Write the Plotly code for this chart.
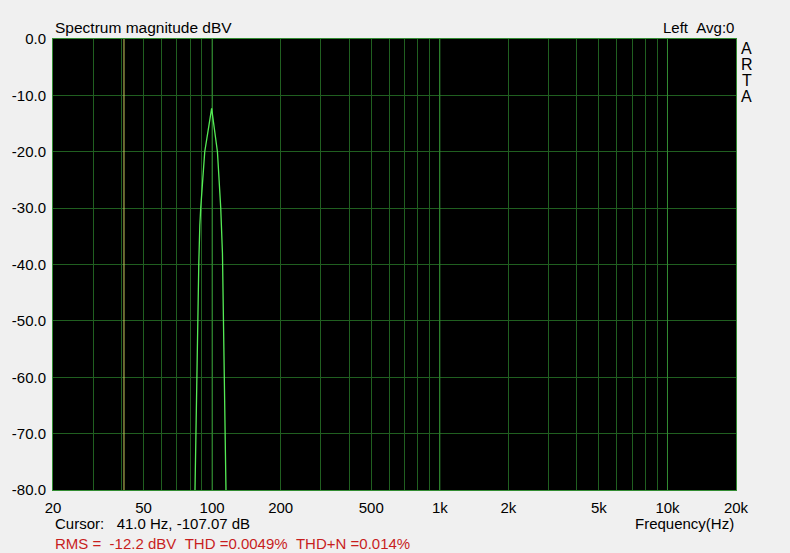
import plotly.graph_objects as go

# ---- data ----
freq_hz = [82.5, 83.9, 84.8, 85.6, 86.5, 87.4, 88.3, 89.1, 92.8, 99.5,
           105.5, 109.1, 111.0, 112.5, 114.0, 115.1, 117.0]
mag_dbv = [-100.0, -80.0, -70.8, -60.5, -49.8, -39.6, -33.0, -30.0, -20.0, -12.3,
           -20.0, -30.0, -38.0, -52.0, -68.0, -80.0, -100.0]

grid_freqs = [20, 30, 40, 50, 60, 70, 80, 90,
              100, 200, 300, 400, 500, 600, 700, 800, 900,
              1000, 2000, 3000, 4000, 5000, 6000, 7000, 8000, 9000,
              10000, 20000]
x_label_map = {20: "20", 50: "50", 100: "100", 200: "200", 500: "500",
               1000: "1k", 2000: "2k", 5000: "5k", 10000: "10k", 20000: "20k"}
decade_freqs = [100, 1000, 10000]
y_ticks = [0, -10, -20, -30, -40, -50, -60, -70, -80]
y_labels = ["0.0", "-10.0", "-20.0", "-30.0", "-40.0", "-50.0", "-60.0", "-70.0", "-80.0"]
cursor_freq = 41.0
y_min, y_max = -80, 0

FONT = "Liberation Sans, Arial, sans-serif"
GRID = "rgb(32,95,32)"
DECADE = "rgb(50,140,50)"
CURVE = "rgb(85,235,85)"
CURSOR = "rgb(205,205,95)"

fig = go.Figure()

for f in decade_freqs:
    fig.add_trace(go.Scatter(x=[f, f], y=[y_min, y_max], mode="lines",
                             line=dict(color=DECADE, width=1), hoverinfo="skip"))
fig.add_trace(go.Scatter(x=[cursor_freq, cursor_freq], y=[y_min, y_max], mode="lines",
                         line=dict(color=CURSOR, width=1), hoverinfo="skip"))
fig.add_trace(go.Scatter(x=freq_hz, y=mag_dbv, mode="lines",
                         line=dict(color=CURVE, width=1.3), hoverinfo="skip"))

nb = "\u00a0"
annotations = [
    dict(text="Spectrum magnitude dBV", x=0, y=1.0266, xanchor="left", yanchor="middle",
         font=dict(family=FONT, size=15.5, color="black")),
    dict(text="Left" + nb * 2 + "Avg:0", x=1, y=1.0266, xanchor="right", yanchor="middle"),
    dict(text="Frequency(Hz)", x=1, y=-0.0732, xanchor="right", yanchor="middle"),
    dict(text="Cursor:" + nb * 3 + "41.0 Hz, -107.07 dB", x=0, y=-0.0732,
         xanchor="left", yanchor="middle"),
    dict(text="RMS =" + nb * 2 + "-12.2 dBV" + nb * 2 + "THD =0.0049%" + nb * 2 + "THD+N =0.014%",
         x=0, y=-0.1197, xanchor="left", yanchor="middle",
         font=dict(family=FONT, size=15, color="rgb(200,30,30)")),
]
for letter, yy in zip("ARTA", [0.978, 0.943, 0.908, 0.873]):
    annotations.append(dict(text=letter, x=1.0157, y=yy, xanchor="center", yanchor="middle",
                            font=dict(family=FONT, size=16, color="black")))

for a in annotations:
    a.setdefault("font", dict(family=FONT, size=15, color="black"))
    a.update(xref="paper", yref="paper", showarrow=False)

fig.update_layout(
    width=790, height=553,
    margin=dict(l=53, r=54, t=39, b=63, pad=0),
    paper_bgcolor="rgb(240,240,240)",
    plot_bgcolor="black",
    showlegend=False,
    hovermode=False,
    font=dict(family=FONT, size=15, color="black"),
    annotations=annotations,
    xaxis=dict(type="log", range=[1.30103, 4.30103],
               tickvals=grid_freqs,
               ticktext=[x_label_map.get(f, "") for f in grid_freqs],
               showgrid=True, gridcolor=GRID, gridwidth=1,
               showline=True, linecolor=DECADE, linewidth=1, mirror=True,
               zeroline=False, ticks="", ticklabelstandoff=4,
               tickfont=dict(family=FONT, size=15, color="black")),
    yaxis=dict(range=[y_min, y_max], tickvals=y_ticks, ticktext=y_labels,
               showgrid=True, gridcolor=GRID, gridwidth=1,
               showline=True, linecolor=DECADE, linewidth=1, mirror=True,
               zeroline=False, ticks="", ticklabelstandoff=3,
               tickfont=dict(family=FONT, size=15, color="black")),
)

fig.write_html("out.html", config={"displayModeBar": False},
               post_script="document.body.style.margin='0';document.body.style.padding='0';")
